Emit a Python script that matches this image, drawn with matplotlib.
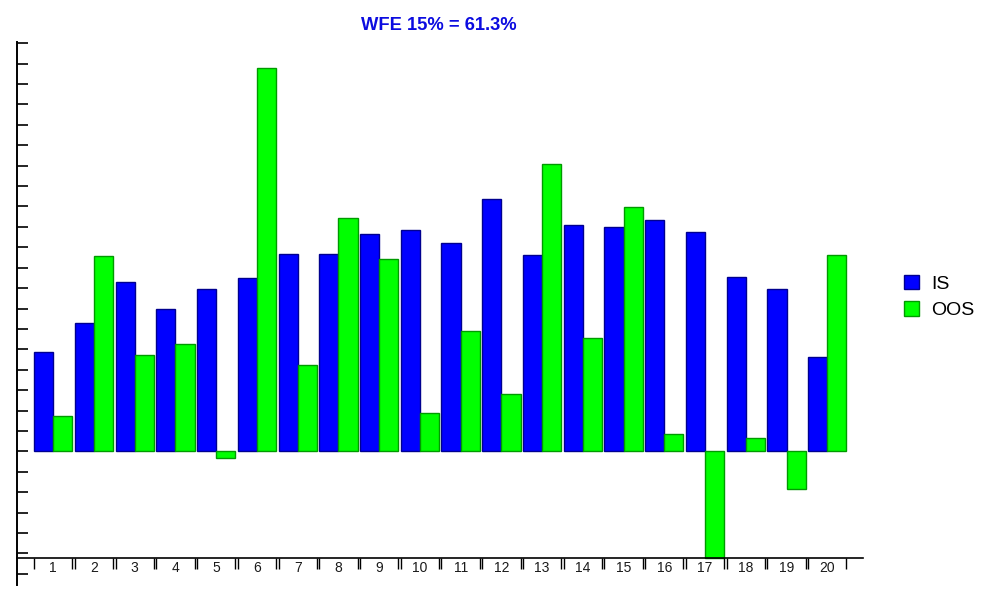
import matplotlib
matplotlib.use("Agg")
import matplotlib.pyplot as plt
from matplotlib.patches import Patch
import numpy as np

plt.rcParams['font.family'] = ['Liberation Sans', 'DejaVu Sans']

categories = [str(i) for i in range(1, 21)]
is_values = [4.87, 6.29, 8.30, 6.97, 7.95, 8.50, 9.67, 9.67, 10.65, 10.85,
             10.21, 12.37, 9.62, 11.09, 11.00, 11.34, 10.75, 8.54, 7.95, 4.62]
oos_values = [1.73, 9.57, 4.72, 5.26, -0.33, 18.79, 4.23, 11.44, 9.42, 1.88,
              5.90, 2.81, 14.08, 5.56, 11.97, 0.85, -5.25, 0.65, -1.85, 9.62]
title = "WFE 15% = 61.3%"
series_names = ["IS", "OOS"]

W, H = 981, 594
fig = plt.figure(figsize=(W / 100, H / 100), dpi=100)
ax = fig.add_axes([17 / W, 9 / H, 845.7 / W, 543 / H])

x = np.arange(1, len(categories) + 1)
bw = 0.47
blue, blue_edge = '#0000ff', '#000090'
green, green_edge = '#00ff00', '#009a00'
ax.bar(x - bw / 2, is_values, width=bw, color=blue, edgecolor=blue_edge, linewidth=1)
ax.bar(x + bw / 2, oos_values, width=bw, color=green, edgecolor=green_edge, linewidth=1)

ax.set_xlim(0.11, 20.87)
ax.set_ylim(-6.55, 20.06)

for s in ['top', 'right']:
    ax.spines[s].set_visible(False)
ax.spines['left'].set_linewidth(1.4)
ax.spines['bottom'].set_linewidth(1.2)
ax.spines['bottom'].set_position(('data', -5.25))

ax.set_yticks(np.arange(-6, 21, 1))
ax.tick_params(axis='y', direction='in', length=8, width=1.2, labelleft=False)

ax.set_xticks(x)
ax.set_xticklabels(categories)
edges = np.concatenate([x - bw, x + bw])
ax.set_xticks(edges, minor=True)
ax.tick_params(axis='x', which='major', length=0, pad=1.5, labelsize=10, labelcolor='#1a1a1a')
ax.tick_params(axis='x', which='minor', direction='out', length=8, width=1)

fig.text(439 / W, 1 - 25 / H, title, ha='center', va='center',
         fontsize=13.2, fontweight='bold', color='#0c0ce0')

handles = [Patch(facecolor=blue, edgecolor=blue_edge, linewidth=1),
           Patch(facecolor=green, edgecolor=green_edge, linewidth=1)]
fig.legend(handles, series_names, loc='center left', bbox_to_anchor=(904 / W, 0.5),
           frameon=False, fontsize=14, handlelength=0.78, handleheight=0.78,
           handletextpad=0.6, labelspacing=0.42, borderpad=0, borderaxespad=0)

fig.savefig("out.png", dpi=100)
